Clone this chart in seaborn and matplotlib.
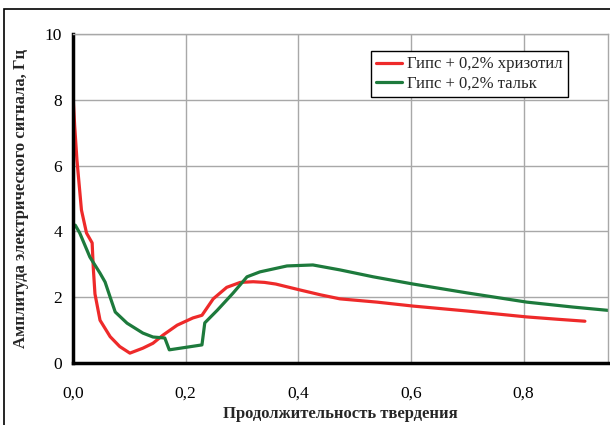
import matplotlib
matplotlib.use("Agg")
import matplotlib.pyplot as plt
from matplotlib.patches import Rectangle
import seaborn as sns
import pandas as pd

# Curing duration vs. electric signal amplitude
x_chrysotile = [0.0, 0.0, 0.003, 0.007, 0.015, 0.024, 0.034, 0.036, 0.039, 0.048,
                0.066, 0.083, 0.101, 0.124, 0.142, 0.16, 0.185, 0.213, 0.229, 0.249,
                0.273, 0.297, 0.32, 0.34, 0.36, 0.403, 0.44, 0.474, 0.54, 0.604,
                0.70, 0.806, 0.86, 0.909]
y_chrysotile = [4.0, 8.15, 7.2, 6.17, 4.65, 3.95, 3.65, 2.9, 2.1, 1.3,
                0.8, 0.5, 0.3, 0.45, 0.6, 0.85, 1.15, 1.37, 1.45, 1.95,
                2.3, 2.45, 2.47, 2.45, 2.4, 2.22, 2.07, 1.95, 1.85, 1.73,
                1.58, 1.4, 1.33, 1.27]

x_talc = [0.0, 0.004, 0.012, 0.03, 0.048, 0.057, 0.066, 0.075, 0.096, 0.124,
          0.142, 0.163, 0.171, 0.202, 0.229, 0.234, 0.256, 0.284, 0.309, 0.332,
          0.38, 0.426, 0.474, 0.533, 0.604, 0.70, 0.806, 0.888, 0.95]
y_talc = [4.1, 4.19, 3.95, 3.22, 2.73, 2.46, 2.0, 1.55, 1.21, 0.91,
          0.79, 0.76, 0.4, 0.48, 0.55, 1.22, 1.6, 2.12, 2.62, 2.77,
          2.95, 2.98, 2.83, 2.62, 2.4, 2.13, 1.85, 1.7, 1.6]

series_names = ["Гипс + 0,2% хризотил", "Гипс + 0,2% тальк"]
series_colors = ["#ee2a2a", "#1d7a3c"]

x_ticks = [0.0, 0.2, 0.4, 0.6, 0.8]
x_tick_labels = ["0,0", "0,2", "0,4", "0,6", "0,8"]
y_ticks = [0, 2, 4, 6, 8, 10]

x_label = "Продолжительность твердения"
y_label = "Амплитуда электрического сигнала, Гц"

sns.set_theme(style="white")
plt.rcParams["font.family"] = ["Liberation Serif", "DejaVu Serif"]

df = pd.concat([
    pd.DataFrame({"x": x_chrysotile, "y": y_chrysotile, "s": series_names[0]}),
    pd.DataFrame({"x": x_talc, "y": y_talc, "s": series_names[1]}),
], ignore_index=True)

fig = plt.figure(figsize=(6.1, 4.25), dpi=100)
ax = fig.add_axes([73 / 610, 62 / 425, 535 / 610, 329 / 425])

sns.lineplot(data=df, x="x", y="y", hue="s", palette=series_colors,
             sort=False, estimator=None, linewidth=2.3, ax=ax)

ax.set_xlim(0, 0.95)
ax.set_ylim(0, 10)
ax.set_xticks(x_ticks)
ax.set_xticklabels(x_tick_labels)
ax.set_yticks(y_ticks)
ax.grid(True, color="#a8a8a8", linewidth=1.0)
ax.set_axisbelow(True)

for side in ("top", "right"):
    ax.spines[side].set_color("#a8a8a8")
    ax.spines[side].set_linewidth(1.0)
for side in ("left", "bottom"):
    ax.spines[side].set_color("black")
    ax.spines[side].set_linewidth(2.5)

ax.tick_params(axis="both", direction="in", length=4, width=2, color="black",
               labelsize=12.5, labelcolor="black")
ax.tick_params(axis="x", pad=16)
ax.tick_params(axis="y", pad=8)

ax.set_xlabel(x_label, fontsize=12, fontweight="bold")
ax.xaxis.set_label_coords(0.5, -0.13)
ax.set_ylabel(y_label, fontsize=12, fontweight="bold", labelpad=11)

leg = ax.legend(loc="upper right", bbox_to_anchor=(0.925, 0.947), fontsize=12,
                frameon=True, fancybox=False, edgecolor="black",
                handlelength=1.6, handletextpad=0.3, borderpad=0.3,
                labelspacing=0.2, borderaxespad=0)
leg.get_frame().set_linewidth(1.0)
leg.get_frame().set_alpha(1)

fig.add_artist(Rectangle((4 / 610, -0.01), 1.0, (425 - 9) / 425 + 0.01,
                         transform=fig.transFigure, fill=False,
                         edgecolor="black", linewidth=1.2))

fig.savefig("out.png", dpi=100)
